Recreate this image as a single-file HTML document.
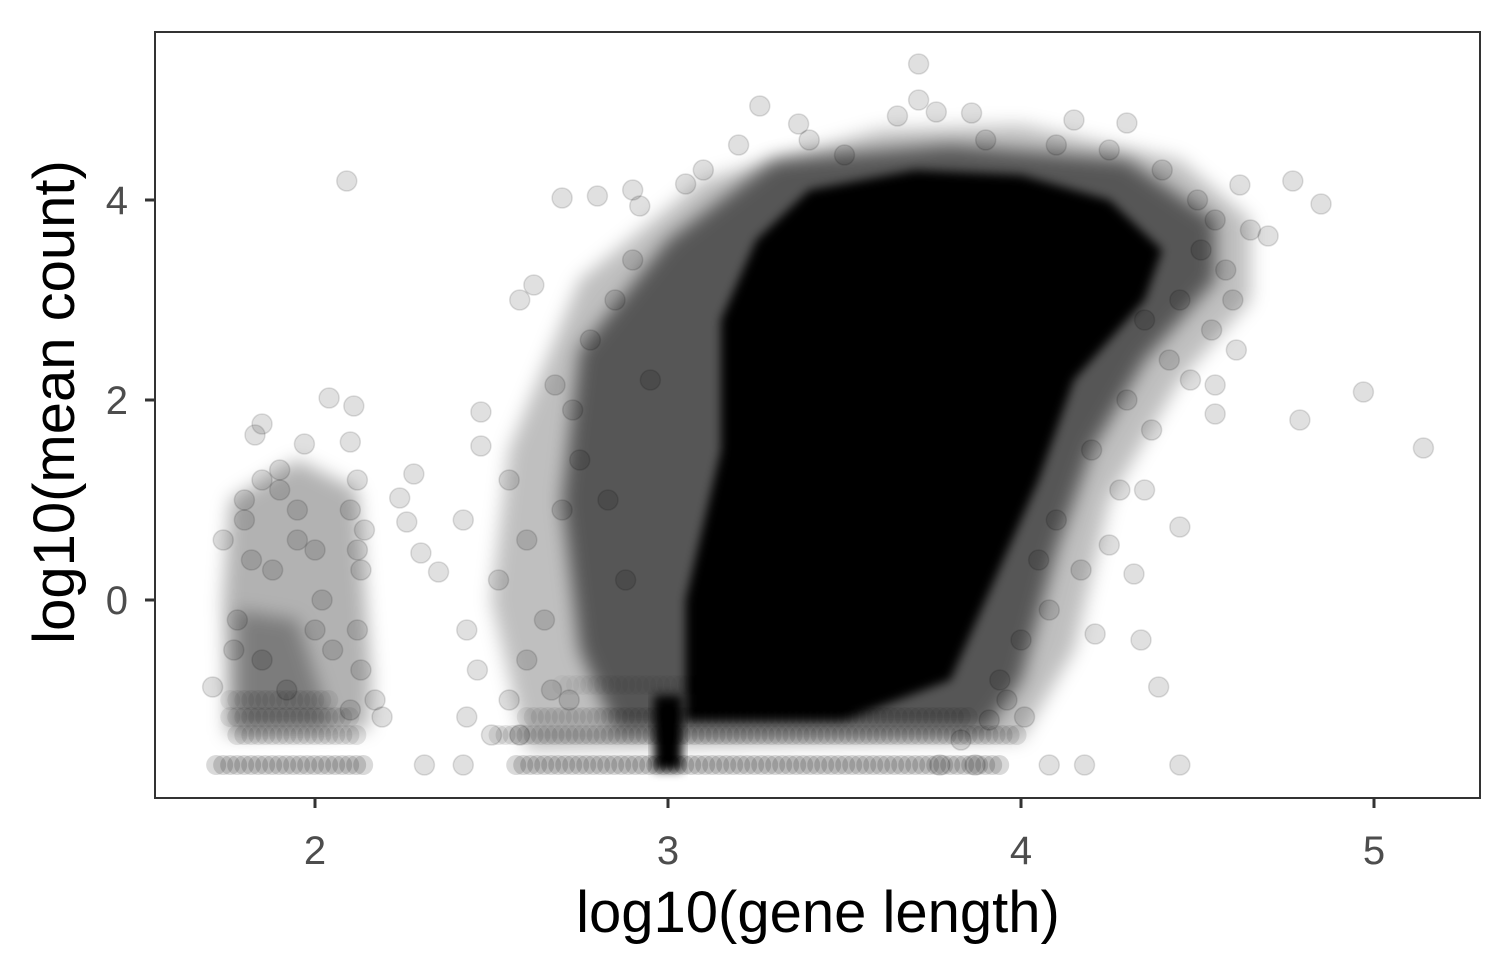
<!DOCTYPE html>
<html><head><meta charset="utf-8">
<style>
html,body{margin:0;padding:0;background:#fff;}
svg{display:block;font-family:"Liberation Sans",Arial,sans-serif;}
</style></head>
<body>
<svg id="chart" width="1512" height="972" viewBox="0 0 1512 972">
<defs>
<filter id="blur" x="-20%" y="-20%" width="140%" height="140%"><feGaussianBlur stdDeviation="9"/></filter>
<filter id="blurS" x="-20%" y="-20%" width="140%" height="140%"><feGaussianBlur stdDeviation="5"/></filter>
<clipPath id="clip"><rect x="156" y="33" width="1324" height="764"/></clipPath>
</defs>
<rect x="0" y="0" width="1512" height="972" fill="#fff"/>
<g id="marks" clip-path="url(#clip)"></g>
<rect x="155" y="32" width="1325" height="766" fill="none" stroke="#333" stroke-width="2"/>
<g id="axes"></g>
<text x="818" y="932" text-anchor="middle" font-size="58" fill="#000">log10(gene length)</text>
<text transform="translate(74,402) rotate(-90)" text-anchor="middle" font-size="58" fill="#000">log10(mean count)</text>
</svg>
<script>
const xTicks = [2, 3, 4, 5];
const yTicks = [0, 2, 4];
// sparse individual points [log10 length, log10 count]
const points = [
[2.09,4.19],[5.14,1.52],[4.97,2.08],[4.79,1.80],[4.77,4.19],[4.85,3.96],[3.71,5.36],[3.71,5.0],[3.26,4.94],[3.76,4.88],
[3.65,4.84],[3.86,4.87],[4.15,4.8],[4.30,4.77],[3.37,4.76],[3.20,4.55],[2.8,4.04],[2.7,4.02],[3.05,4.16],[2.92,3.94],
[2.58,3.0],[2.62,3.15],[2.68,2.15],[2.73,1.9],[2.04,2.02],[2.11,1.94],[2.10,1.58],[1.97,1.56],[1.85,1.76],[1.83,1.65],
[2.24,1.02],[2.28,1.26],[2.26,0.78],[2.3,0.47],[2.35,0.28],[2.47,1.88],[2.47,1.54],[2.42,0.8],[2.43,-0.3],[2.46,-0.7],
[2.31,-1.65],[2.42,-1.65],[2.43,-1.17],[2.19,-1.17],[1.71,-0.87],[1.74,0.6],[4.61,2.5],[4.55,2.15],[4.55,1.86],[4.45,-1.65],
[4.45,0.73],[4.39,-0.87],[4.34,-0.4],[4.32,0.26],[4.25,0.55],[4.18,-1.65],[4.08,-1.65],[4.01,-1.17],[4.21,-0.34],[4.7,3.64],
[4.62,4.15],[4.65,3.7],[4.51,3.5],[4.60,3.0],[4.54,2.7],[4.42,2.4],[4.48,2.2],[4.37,1.7],[4.28,1.1],[4.35,1.1],
[4.17,0.3],[4.08,-0.1],[3.94,-0.8],[3.91,-1.2],[3.83,-1.4],[3.77,-1.65],[3.87,-1.65],[2.55,1.2],[2.6,0.6],[2.52,0.2],
[2.65,-0.2],[2.7,0.9],[2.75,1.4],[2.78,2.6],[2.85,3.0],[2.9,3.4],[2.95,2.2],[2.83,1.0],[2.88,0.2],[2.6,-0.6],
[2.67,-0.9],[2.55,-1.0],[2.5,-1.35],[2.58,-1.35],[2.72,-1.0],[2.9,4.1],[3.1,4.3],[3.4,4.6],[3.5,4.45],[3.9,4.6],
[4.1,4.55],[4.25,4.5],[4.4,4.3],[4.5,4.0],[4.55,3.8],[4.58,3.3],[4.45,3.0],[4.35,2.8],[4.3,2.0],[4.2,1.5],
[4.1,0.8],[4.05,0.4],[4.0,-0.4],[3.96,-1.0],[1.95,0.9],[2.0,0.5],[2.12,1.2],[2.14,0.7],[2.13,0.3],[2.12,-0.3],
[2.13,-0.7],[2.17,-1.0],[1.9,1.1],[1.8,0.8],[1.88,0.3],[1.78,-0.2],[2.05,-0.5],[1.92,-0.9],[2.1,-1.1],[2.02,0.0],
[1.85,1.2],[1.9,1.3],[1.8,1.0],[1.95,0.6],[1.82,0.4],[2.1,0.9],[2.12,0.5],[1.77,-0.5],[1.85,-0.6],[2.0,-0.3]
];
// dense region outlines (data coords)
const hazeOuter = [[2.55,1.5],[2.75,3.2],[3.1,4.2],[3.6,4.7],[4.0,4.75],[4.45,4.4],[4.65,3.8],[4.65,3.0],[4.45,2.2],[4.25,1.0],[4.15,-0.5],[4.0,-1.4],[2.6,-1.5],[2.5,0]];
const hazeMid = [[2.75,2.5],[3.0,3.6],[3.3,4.4],[3.8,4.55],[4.3,4.4],[4.55,3.8],[4.55,3.2],[4.35,2.4],[4.2,1.5],[4.1,0.5],[4.0,-0.8],[3.9,-1.3],[2.85,-1.3],[2.75,-0.5],[2.7,1.0]];
const core = [[3.4,4.1],[3.7,4.3],[4.0,4.25],[4.25,4.0],[4.4,3.5],[4.35,3.0],[4.15,2.2],[4.05,1.2],[3.9,0.0],[3.8,-0.8],[3.5,-1.2],[3.05,-1.2],[3.05,0.0],[3.15,1.5],[3.15,2.8],[3.25,3.6]];
const leftHaze = [[1.76,1.0],[1.95,1.4],[2.12,1.1],[2.16,-0.8],[2.15,-1.3],[1.75,-1.35],[1.74,0]];
const leftCore = [[1.78,-0.1],[1.95,-0.2],[2.05,-1.3],[1.78,-1.3]];
const colCore = [[2.96,-1.7],[3.04,-1.7],[3.04,-0.95],[2.96,-0.95]];
// horizontal floor rows: [y, xStart, xEnd, opacity]
const floorRows = [
[-1.65,1.72,2.14,0.45],[-1.65,2.57,3.95,0.45],[-1.35,1.78,2.12,0.3],[-1.35,2.52,4.0,0.3],
[-1.17,1.76,2.1,0.22],[-1.17,2.6,3.85,0.2],[-1.0,1.76,2.05,0.18],[-0.85,2.7,3.5,0.1]
];

const NS = "http://www.w3.org/2000/svg";
const X = v => 315 + (v - 2) * 353;
const Y = v => 600 - v * 100;
const marks = document.getElementById('marks');
const axes = document.getElementById('axes');

function poly(arr, op, name, filt) {
  const p = document.createElementNS(NS, 'polygon');
  p.setAttribute('points', arr.map(d => X(d[0]) + ',' + Y(d[1])).join(' '));
  p.setAttribute('fill', 'rgba(0,0,0,' + op + ')');
  if (filt) p.setAttribute('filter', 'url(#' + filt + ')');
  
  
  marks.appendChild(p);
}
poly(hazeOuter, 0.25, 'density-haze-outer', 'blur');
poly(hazeMid, 0.55, 'density-haze-mid', 'blur');
poly(core, 1, 'density-core', 'blurS');
poly(leftHaze, 0.3, 'left-cluster-haze', 'blur');
poly(leftCore, 0.3, 'left-cluster-core', 'blur');
poly(colCore, 1, 'length-1000-column', 'blurS');

floorRows.forEach(r => {
  for (let px = X(r[1]); px <= X(r[2]); px += 7) {
    const c = document.createElementNS(NS, 'circle');
    c.setAttribute('cx', px); c.setAttribute('cy', Y(r[0])); c.setAttribute('r', 10);
    c.setAttribute('fill', 'rgba(0,0,0,' + (r[3] / 3) + ')');
    
    
    marks.appendChild(c);
  }
});

points.forEach(d => {
  const c = document.createElementNS(NS, 'circle');
  c.setAttribute('cx', X(d[0])); c.setAttribute('cy', Y(d[1])); c.setAttribute('r', 10);
  c.setAttribute('fill', 'rgba(0,0,0,0.12)');
  c.setAttribute('stroke', 'rgba(0,0,0,0.12)');
  c.setAttribute('stroke-width', '1.5');
  
  
  marks.appendChild(c);
});

xTicks.forEach(t => {
  const l = document.createElementNS(NS, 'line');
  l.setAttribute('x1', X(t)); l.setAttribute('x2', X(t)); l.setAttribute('y1', 798); l.setAttribute('y2', 808);
  l.setAttribute('stroke', '#333'); l.setAttribute('stroke-width', 3);
  
  
  axes.appendChild(l);
  const tx = document.createElementNS(NS, 'text');
  tx.setAttribute('x', X(t)); tx.setAttribute('y', 864); tx.setAttribute('text-anchor', 'middle');
  tx.setAttribute('font-size', '40'); tx.setAttribute('fill', '#4d4d4d');
  tx.textContent = t;
  
  
  axes.appendChild(tx);
});
yTicks.forEach(t => {
  const l = document.createElementNS(NS, 'line');
  l.setAttribute('x1', 145); l.setAttribute('x2', 155); l.setAttribute('y1', Y(t)); l.setAttribute('y2', Y(t));
  l.setAttribute('stroke', '#333'); l.setAttribute('stroke-width', 3);
  
  
  axes.appendChild(l);
  const tx = document.createElementNS(NS, 'text');
  tx.setAttribute('x', 128); tx.setAttribute('y', Y(t) + 14); tx.setAttribute('text-anchor', 'end');
  tx.setAttribute('font-size', '40'); tx.setAttribute('fill', '#4d4d4d');
  tx.textContent = t;
  
  
  axes.appendChild(tx);
});
</script>
</body></html>
